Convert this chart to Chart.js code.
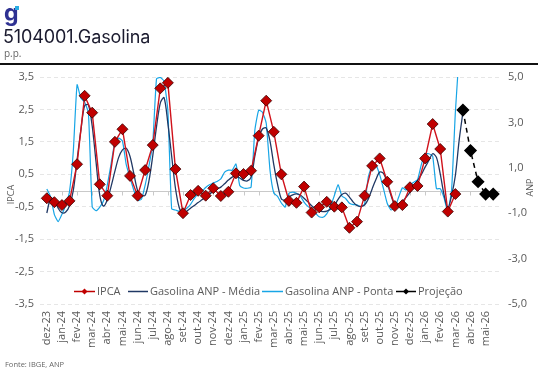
<!DOCTYPE html>
<html>
<head>
<meta charset="utf-8">
<script src="https://cdn.jsdelivr.net/npm/chart.js@4.4.1/dist/chart.umd.min.js"></script>
<style>
  body { margin: 0; background: #fff; font-family: "Open Sans", sans-serif; }
  #wrap { position: relative; width: 538px; height: 374px; overflow: hidden; }
  #chart { position: absolute; left: 0; top: 0; }
  .logo { position: absolute; left: 4px; top: -1px; font: 700 23px Inter, sans-serif; color: #2e3192; }
  .logo span { position: absolute; left: 11px; top: 7px; width: 4px; height: 4px; background: #29abe2; }
  .title { position: absolute; left: 3px; top: 26px; font: 400 18px Inter, sans-serif; color: #1a1a2e; letter-spacing: -0.1px; }
  .unit { position: absolute; left: 4px; top: 46px; font: 400 10px "Open Sans", sans-serif; color: #666; }
  .rule { position: absolute; left: 0; top: 63px; width: 538px; height: 1.5px; background: #111; }
  .source { position: absolute; left: 5px; top: 359px; font: 400 7.5px "Open Sans", sans-serif; color: #666; }
</style>
</head>
<body>
<div id="wrap">
  <canvas id="chart" width="538" height="374"></canvas>
  <div class="logo">g<span></span></div>
  <div class="title">5104001.Gasolina</div>
  <div class="unit">p.p.</div>
  <div class="rule"></div>
  <div class="source">Fonte: IBGE, ANP</div>
</div>
<script>
// Month labels (one tick per month)
const MONTHS = ['dez-23', 'jan-24', 'fev-24', 'mar-24', 'abr-24', 'mai-24', 'jun-24', 'jul-24',
  'ago-24', 'set-24', 'out-24', 'nov-24', 'dez-24', 'jan-25', 'fev-25', 'mar-25', 'abr-25',
  'mai-25', 'jun-25', 'jul-25', 'ago-25', 'set-25', 'out-25', 'nov-25', 'dez-25', 'jan-26',
  'fev-26', 'mar-26', 'abr-26', 'mai-26'];

// IPCA, two readings per month (IPCA-15 and IPCA), left axis
const IPCA = [-0.24, -0.36, -0.45, -0.32, 0.81, 2.92, 2.40, 0.19, -0.16, 1.50,
  1.89, 0.45, -0.16, 0.63, 1.40, 3.15, 3.32, 0.66, -0.70, -0.14,
  -0.01, -0.16, 0.07, -0.17, -0.04, 0.53, 0.51, 0.61, 1.69, 2.77,
  1.81, 0.50, -0.32, -0.38, 0.12, -0.68, -0.52, -0.35, -0.50, -0.52,
  -1.15, -0.96, -0.16, 0.76, 0.99, 0.27, -0.48, -0.45, 0.10, 0.14,
  0.99, 2.05, 1.28, -0.65, -0.11];

// Projection, continues the half-month grid after IPCA
const PROJECAO = [2.48, 1.23, 0.27, -0.11, -0.11];

// ANP weekly series, right axis
const ANP_MEDIA = [-0.99, -0.36, -0.40, -0.78, -0.98, -0.95, -0.67, 0.00, 1.35, 2.65,
  3.74, 3.77, 2.84, 1.28, -0.21, -0.69, -0.41, 0.18, 0.85, 1.46,
  1.79, 1.86, 1.50, 0.75, 0.00, -0.21, -0.21, 0.42, 1.52, 2.81,
  3.85, 4.09, 2.96, 1.52, 0.11, -0.75, -1.02, -0.91, -0.78, -0.66,
  -0.53, -0.41, -0.29, -0.16, -0.04, 0.07, 0.15, 0.30, 0.46, 0.59,
  0.64, 0.55, 0.45, 0.42, 0.59, 1.52, 2.32, 2.71, 2.75, 2.18,
  1.14, 0.27, -0.37, -0.42, -0.29, -0.19, -0.15, -0.20, -0.34, -0.50,
  -0.67, -0.79, -0.89, -0.93, -0.91, -0.82, -0.66, -0.39, -0.18, -0.12,
  -0.29, -0.51, -0.66, -0.70, -0.64, -0.37, 0.07, 0.48, 0.81, 0.75,
  0.33, -0.22, -0.66, -0.69, -0.49, -0.29, -0.08, 0.19, 0.44, 0.70,
  1.03, 1.32, 1.62, 1.46, 0.73, -0.18, -0.78, -0.23, 0.66, 2.21, 3.45];

const ANP_PONTA = [0.07, -0.27, -1.06, -1.37, -1.05, -0.64, -0.05, 1.72, 4.66, 4.07,
  3.89, 3.42, -0.73, -0.89, -0.73, -0.45, 0.25, 1.18, 2.14, 2.31,
  2.18, 1.14, 0.57, 0.01, -0.44, -0.39, 0.24, 1.08, 2.07, 4.92,
  4.98, 4.82, 3.52, -0.81, -0.86, -0.92, -0.89, -0.78, -0.61, -0.35,
  -0.15, -0.04, 0.13, 0.25, 0.33, 0.40, 0.51, 0.81, 0.90, 0.89,
  1.17, 0.22, 0.11, 0.10, 0.15, 2.66, 3.54, 3.45, 2.97, 0.90,
  -0.11, -0.26, -0.55, -0.73, -0.12, -0.07, -0.12, -0.25, -0.51, -0.70,
  -0.82, -0.99, -1.16, -1.18, -1.03, -0.70, -0.23, 0.26, -0.24, -0.35,
  -0.56, -0.62, -0.63, -0.72, -0.60, 0.61, 1.11, 1.12, 0.70, 0.08,
  -0.57, -0.86, -0.75, -0.30, 0.12, 0.02, 0.25, 0.36, 0.47, 1.14,
  1.61, 1.62, 1.51, 0.08, 0.08, -0.32, -0.92, 0.02, 3.45, 6.00];

// Axis ticks
const LEFT_TICKS = [-3.5, -2.5, -1.5, -0.5, 0.5, 1.5, 2.5, 3.5];
const RIGHT_TICKS = [-5, -3, -1, 1, 3, 5];

const GREY = '#595959';
const FONT = { family: '"Open Sans", sans-serif', size: 11 };

function fmt(v) {
    return v.toFixed(1).replace('.', ',');
}

// Zero line with small month ticks (axis crosses at 0)
const zeroLine = {
    id: 'zeroLine',
    beforeDatasetsDraw(chart) {
        const ctx = chart.ctx;
        const area = chart.chartArea;
        const y0 = Math.round(chart.scales.y.getPixelForValue(0)) + 0.5;
        ctx.save();
        ctx.strokeStyle = '#c9c9c9';
        ctx.lineWidth = 1;
        ctx.beginPath();
        ctx.moveTo(area.left, y0);
        ctx.lineTo(area.right, y0);
        MONTHS.forEach((m, i) => {
            const px = Math.round(chart.scales.x.getPixelForValue(i)) + 0.5;
            ctx.moveTo(px, y0);
            ctx.lineTo(px, y0 + 4);
        });
        ctx.stroke();
        ctx.restore();
    }
};

// Axis titles and the legend, drawn inside the plot like the original
const extras = {
    id: 'extras',
    afterDraw(chart) {
        const ctx = chart.ctx;
        const yMid = chart.scales.y.getPixelForValue(0);
        ctx.save();
        ctx.fillStyle = GREY;
        ctx.font = '9px "Open Sans", sans-serif';
        ctx.textAlign = 'center';
        ctx.textBaseline = 'middle';
        ctx.translate(11, yMid + 4);
        ctx.rotate(-Math.PI / 2);
        ctx.fillText('IPCA', 0, 0);
        ctx.restore();

        ctx.save();
        ctx.fillStyle = GREY;
        ctx.font = '9px "Open Sans", sans-serif';
        ctx.textAlign = 'center';
        ctx.textBaseline = 'middle';
        ctx.translate(530, yMid - 3);
        ctx.rotate(-Math.PI / 2);
        ctx.fillText('ANP', 0, 0);
        ctx.restore();

        // legend
        const ly = 291.5;
        const items = [
            { x: 74, w: 21, color: '#c00000', text: 'IPCA', marker: '#c00000' },
            { x: 128, w: 20, color: '#203864', text: 'Gasolina ANP - Média' },
            { x: 262, w: 21, color: '#17a5e6', text: 'Gasolina ANP - Ponta' },
            { x: 396, w: 20, color: '#000', text: 'Projeção', marker: '#000' }
        ];
        ctx.save();
        ctx.font = '11px "Open Sans", sans-serif';
        ctx.textBaseline = 'middle';
        items.forEach(it => {
            ctx.strokeStyle = it.color;
            ctx.lineWidth = 1.5;
            ctx.beginPath();
            ctx.moveTo(it.x, ly);
            ctx.lineTo(it.x + it.w, ly);
            ctx.stroke();
            if (it.marker) {
                const cx = it.x + it.w / 2;
                ctx.fillStyle = it.marker;
                ctx.beginPath();
                ctx.moveTo(cx - 3, ly);
                ctx.lineTo(cx, ly - 3);
                ctx.lineTo(cx + 3, ly);
                ctx.lineTo(cx, ly + 3);
                ctx.closePath();
                ctx.fill();
            }
            ctx.fillStyle = GREY;
            ctx.fillText(it.text, it.x + it.w + 2, ly);
        });
        ctx.restore();
    }
};

const ctx = document.getElementById('chart').getContext('2d');
new Chart(ctx, {
    type: 'line',
    data: {
        datasets: [
            {
                label: 'IPCA',
                data: IPCA.map((v, i) => ({ x: i / 2, y: v })),
                yAxisID: 'y',
                borderColor: '#d0121b',
                borderWidth: 1.4,
                pointStyle: 'rectRot',
                pointRadius: 5.5,
                pointBackgroundColor: '#c00000',
                pointBorderColor: '#3b0000',
                pointBorderWidth: 0.8,
                tension: 0
            },
            {
                label: 'Projeção',
                data: PROJECAO.map((v, i) => ({ x: (IPCA.length + i) / 2, y: v })),
                yAxisID: 'y',
                borderColor: '#000',
                borderWidth: 1.5,
                borderDash: [5, 4],
                pointStyle: 'rectRot',
                pointRadius: 5.5,
                pointBackgroundColor: '#000',
                pointBorderColor: '#000',
                tension: 0
            },
            {
                label: 'Gasolina ANP - Média',
                data: ANP_MEDIA.map((v, i) => ({ x: i / 4, y: v })),
                yAxisID: 'y1',
                borderColor: '#203864',
                borderWidth: 1.3,
                pointRadius: 0,
                tension: 0.3
            },
            {
                label: 'Gasolina ANP - Ponta',
                data: ANP_PONTA.map((v, i) => ({ x: i / 4, y: v })),
                yAxisID: 'y1',
                borderColor: '#17a5e6',
                borderWidth: 1.2,
                pointRadius: 0,
                tension: 0.15
            }
        ]
    },
    options: {
        responsive: false,
        animation: false,
        layout: { padding: { top: 77, left: 0, right: 0, bottom: 0 } },
        plugins: {
            legend: { display: false },
            tooltip: { enabled: false }
        },
        scales: {
            x: {
                type: 'linear',
                min: -0.45,
                max: 29.95,
                afterBuildTicks: s => { s.ticks = MONTHS.map((m, i) => ({ value: i })); },
                afterFit: s => { s.height = 70; },
                grid: { display: false, drawTicks: false },
                border: { display: false },
                ticks: {
                    autoSkip: false,
                    minRotation: 90,
                    maxRotation: 90,
                    padding: 7,
                    color: GREY,
                    font: FONT,
                    callback: v => MONTHS[v]
                }
            },
            y: {
                position: 'left',
                min: -3.5,
                max: 3.5,
                afterBuildTicks: s => { s.ticks = LEFT_TICKS.map(v => ({ value: v })); },
                afterFit: s => { s.width = 40; },
                grid: { color: '#e6e6e6', drawTicks: false },
                border: { display: false, dash: [4, 3] },
                ticks: { padding: 6, color: GREY, font: FONT, callback: v => fmt(v) }
            },
            y1: {
                position: 'right',
                min: -5,
                max: 5,
                afterBuildTicks: s => { s.ticks = RIGHT_TICKS.map(v => ({ value: v })); },
                afterFit: s => { s.width = 38; },
                grid: { display: false, drawTicks: false },
                border: { display: false },
                ticks: { padding: 8, color: GREY, font: FONT, callback: v => fmt(v) }
            }
        }
    },
    plugins: [zeroLine, extras]
});
</script>
</body>
</html>
